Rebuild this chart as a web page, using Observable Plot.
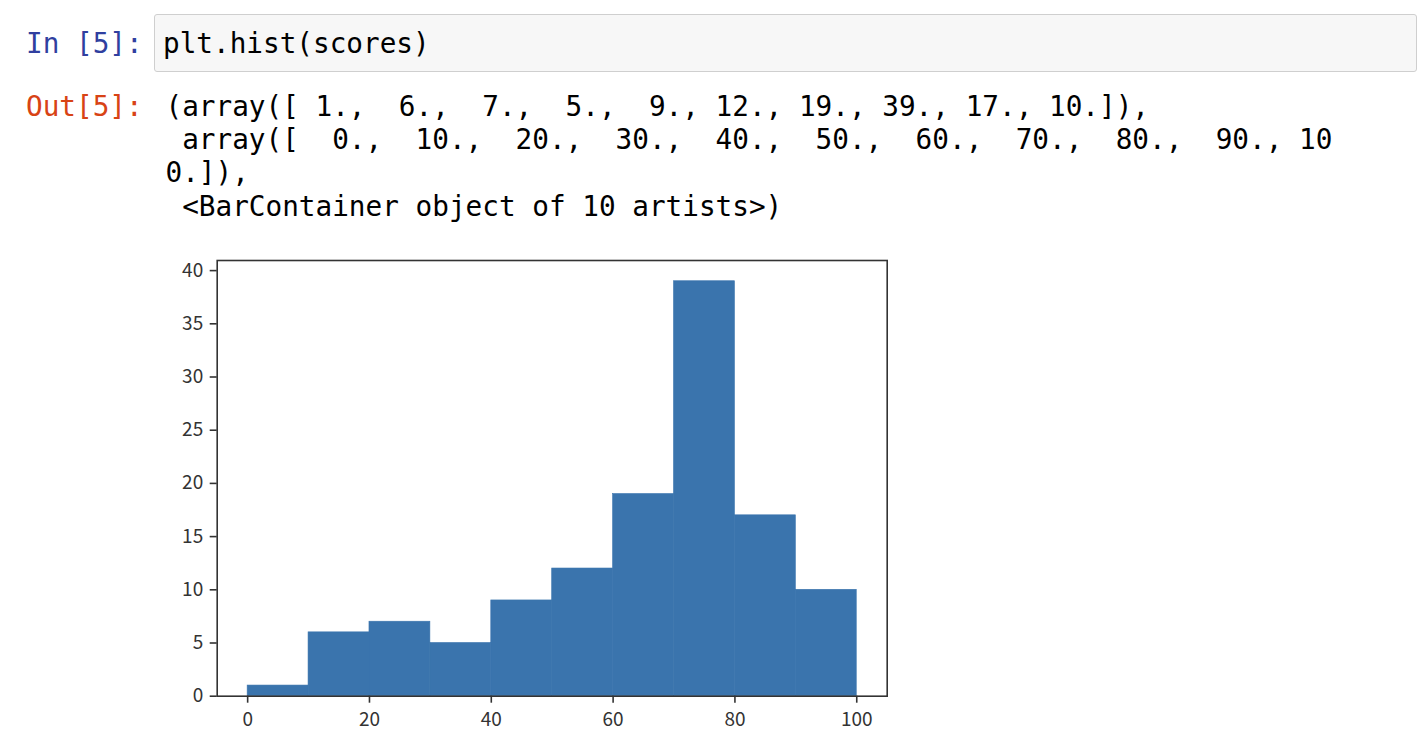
<!DOCTYPE html>
<html>
<head>
<meta charset="utf-8">
<script src="https://cdn.jsdelivr.net/npm/d3@7"></script>
<script src="https://cdn.jsdelivr.net/npm/@observablehq/plot@0.6"></script>
<style>
  html, body { margin: 0; padding: 0; background: #ffffff; }
  body { width: 1422px; height: 746px; position: relative; overflow: hidden; }
  .mono { position: absolute; font-family: "DejaVu Sans Mono", monospace; font-size: 27.7px; line-height: 33.3px; white-space: pre; color: #000; }
  .prompt-in { color: #303F9F; }
  .prompt-out { color: #D84315; }
  .codebox { position: absolute; left: 154px; top: 14px; width: 1261px; height: 56px; background: #f7f7f7; border: 1px solid #cfcfcf; border-radius: 3px; }
  #chart { position: absolute; left: 150px; top: 240px; }
</style>
</head>
<body>
<div class="codebox"></div>
<div class="mono prompt-in" id="inPrompt" style="left:26px; top:26.7px;"></div>
<div class="mono" id="codeText" style="left:163px; top:26.7px;"></div>
<div class="mono prompt-out" id="outPrompt" style="left:26px; top:89.8px;"></div>
<div class="mono" id="outText" style="left:165.5px; top:89.8px;"></div>
<div id="chart"></div>
<script>
// ---- data ----
const counts = [1, 6, 7, 5, 9, 12, 19, 39, 17, 10];
const edges = [0, 10, 20, 30, 40, 50, 60, 70, 80, 90, 100];
const xTicks = [0, 20, 40, 60, 80, 100];
const yTicks = [0, 5, 10, 15, 20, 25, 30, 35, 40];

const inPromptText = "In [5]:";
const codeLine = "plt.hist(scores)";
const outPromptText = "Out[5]:";
const outLines = [
  "(array([ 1.,  6.,  7.,  5.,  9., 12., 19., 39., 17., 10.]),",
  " array([  0.,  10.,  20.,  30.,  40.,  50.,  60.,  70.,  80.,  90., 10",
  "0.]),",
  " <BarContainer object of 10 artists>)"
];

document.getElementById("inPrompt").textContent = inPromptText;
document.getElementById("codeText").textContent = codeLine;
document.getElementById("outPrompt").textContent = outPromptText;
document.getElementById("outText").textContent = outLines.join("\n");

// ---- chart ----
const bins = counts.map((c, i) => ({x1: edges[i], x2: edges[i + 1], y: c}));

const W = 760, H = 500;
const chart = Plot.plot({
  width: W,
  height: H,
  marginLeft: 66.7,
  marginRight: 23.3,
  marginTop: 20,
  marginBottom: 44.3,
  x: {domain: [-5, 105]},
  y: {domain: [0, 40.95]},
  style: {
    fontFamily: '"Noto Sans CJK KR", "Noto Sans", sans-serif',
    fontSize: "19px",
    color: "#333",
    background: "transparent",
    overflow: "visible"
  },
  marks: [
    Plot.rectY(bins, {x1: "x1", x2: "x2", y: "y", fill: "#3a74ad", stroke: "#3a74ad", strokeWidth: 0.6, inset: 0}),
    Plot.axisX({ticks: xTicks, tickSize: 7, tickPadding: 9, strokeWidth: 1.6, fontSize: 19, label: null, tickFormat: d => String(d), color: "#333"}),
    Plot.axisY({ticks: yTicks, tickSize: 7, tickPadding: 7, strokeWidth: 1.6, fontSize: 19, label: null, tickFormat: d => String(d), color: "#333"}),
    Plot.frame({stroke: "#333", strokeWidth: 1.6})
  ]
});
document.getElementById("chart").appendChild(chart);
</script>
</body>
</html>
